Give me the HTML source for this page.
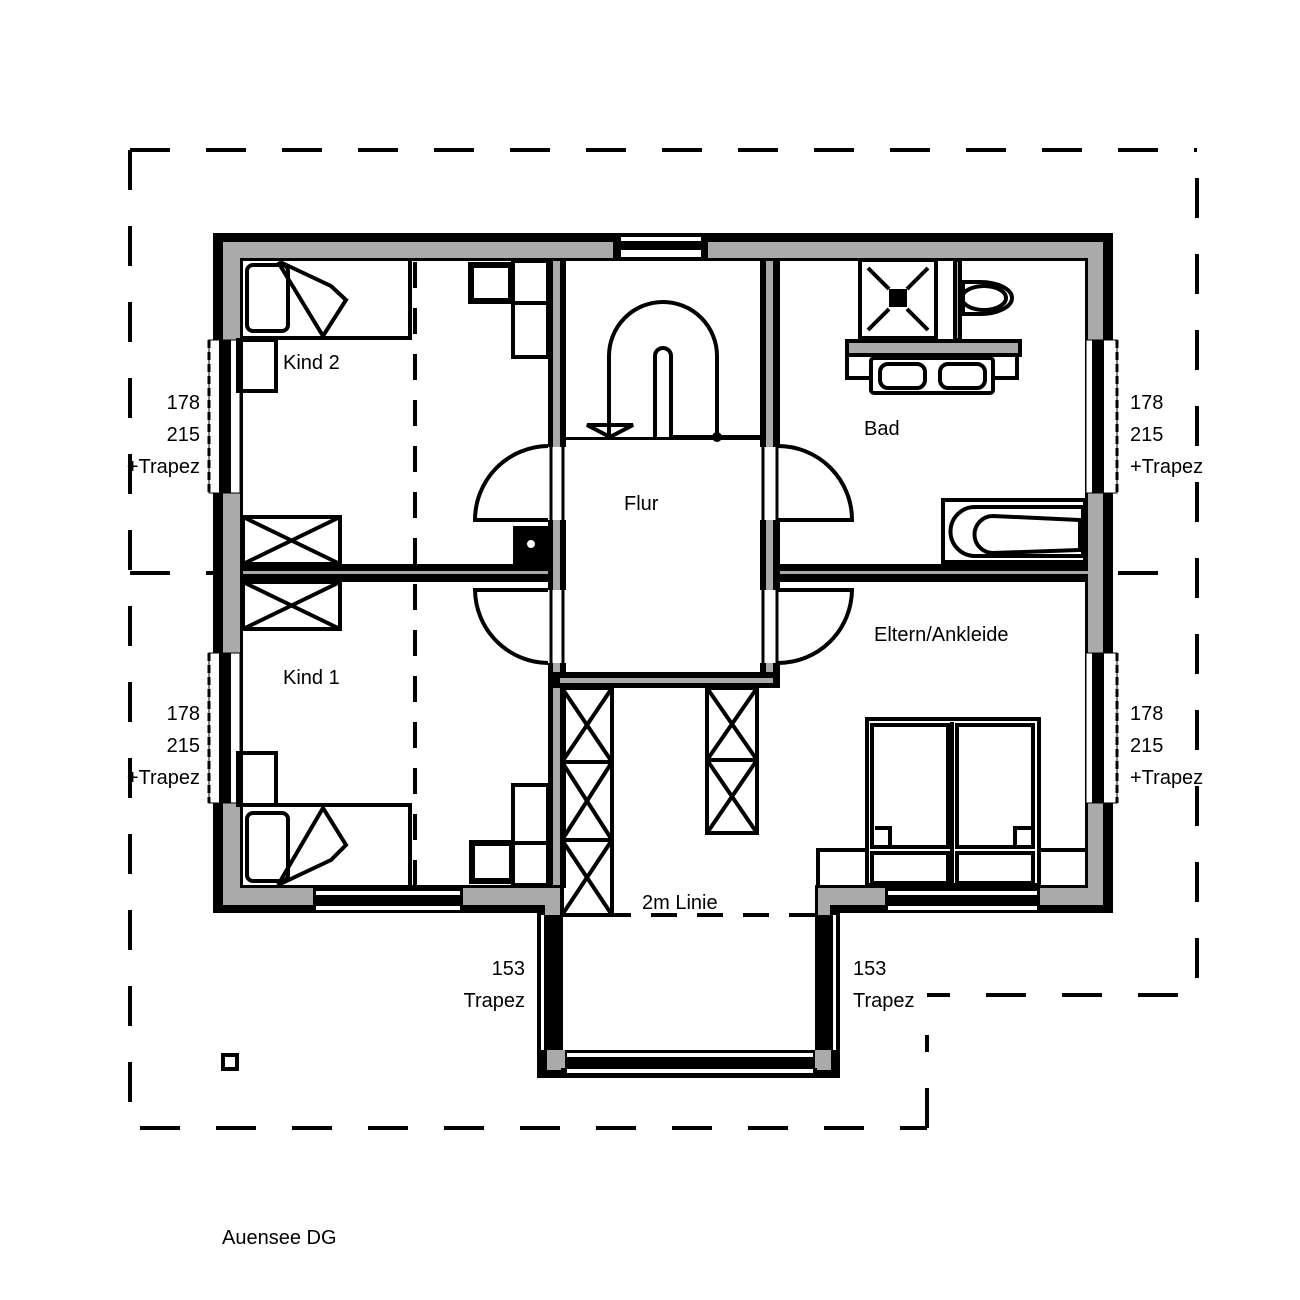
<!DOCTYPE html>
<html><head><meta charset="utf-8"><style>
html,body{margin:0;padding:0;background:#fff;}
svg{display:block;}
text{font-family:"Liberation Sans",sans-serif;font-size:20px;fill:#000;}
</style></head><body>
<svg width="1300" height="1300" viewBox="0 0 1300 1300" xmlns="http://www.w3.org/2000/svg">
<rect width="1300" height="1300" fill="#fff"/>
<g stroke="#000" stroke-width="4" fill="none" stroke-dasharray="40,36">
<path d="M130 150 H1197"/>
<path d="M130 150 V1128 H927"/>
<path d="M1197 178 V995 H927"/>
<path d="M927 1128 V1035"/>
<path d="M130 573 H1165"/>
</g>
<path d="M213 233 H1113 V913 H840 V1078 H537 V913 H213 Z" fill="#000"/>
<path d="M223 242 H1103 V905 H830 V1068 H547 V905 H223 Z" fill="#aaa"/>
<path d="M240 258 H1088 V888 H818 V1050 H560 V888 H240 Z" fill="#000"/>
<path d="M243 261 H1085 V885 H815 V1050 H563 V885 H243 Z" fill="#fff"/>
<rect x="547" y="915" width="13" height="135" fill="#000"/>
<rect x="541" y="915" width="3" height="135" fill="#fff"/>
<rect x="818" y="915" width="13" height="135" fill="#000"/>
<rect x="833" y="915" width="3" height="135" fill="#fff"/>
<rect x="547" y="1050" width="14" height="20" fill="#aaa"/>
<rect x="817" y="1050" width="14" height="20" fill="#aaa"/>
<rect x="565" y="1050" width="250" height="28" fill="#000"/>
<rect x="567" y="1053" width="246" height="4" fill="#fff"/>
<rect x="567" y="1069" width="246" height="4" fill="#fff"/>
<rect x="545" y="888" width="15" height="27" fill="#aaa"/>
<rect x="818" y="888" width="67" height="17" fill="#aaa"/>
<rect x="613" y="233" width="95" height="27" fill="#000"/>
<rect x="621" y="237" width="80" height="4" fill="#fff"/>
<rect x="621" y="250" width="80" height="7" fill="#fff"/>
<rect x="313" y="888" width="150" height="25" fill="#000"/>
<rect x="316" y="891" width="144" height="4" fill="#fff"/>
<rect x="316" y="906" width="144" height="4" fill="#fff"/>
<rect x="885" y="888" width="155" height="25" fill="#000"/>
<rect x="888" y="891" width="149" height="4" fill="#fff"/>
<rect x="888" y="906" width="149" height="4" fill="#fff"/>
<g>
<rect x="209" y="340" width="31" height="153" fill="#fff"/>
<rect x="219" y="340" width="12" height="153" fill="#000"/>
<rect x="209" y="340" width="31" height="153" fill="none" stroke="#000" stroke-width="1"/>
<line x1="209" y1="340" x2="209" y2="493" stroke="#000" stroke-width="3" stroke-dasharray="8,4"/>
<rect x="209" y="653" width="31" height="150" fill="#fff"/>
<rect x="219" y="653" width="12" height="150" fill="#000"/>
<rect x="209" y="653" width="31" height="150" fill="none" stroke="#000" stroke-width="1"/>
<line x1="209" y1="653" x2="209" y2="803" stroke="#000" stroke-width="3" stroke-dasharray="8,4"/>
<rect x="1086" y="340" width="31" height="153" fill="#fff"/>
<rect x="1092" y="340" width="12" height="153" fill="#000"/>
<rect x="1086" y="340" width="31" height="153" fill="none" stroke="#000" stroke-width="1"/>
<line x1="1117" y1="340" x2="1117" y2="493" stroke="#000" stroke-width="3" stroke-dasharray="8,4"/>
<rect x="1086" y="653" width="31" height="150" fill="#fff"/>
<rect x="1092" y="653" width="12" height="150" fill="#000"/>
<rect x="1086" y="653" width="31" height="150" fill="none" stroke="#000" stroke-width="1"/>
<line x1="1117" y1="653" x2="1117" y2="803" stroke="#000" stroke-width="3" stroke-dasharray="8,4"/>
</g>
<rect x="548" y="258" width="18" height="630" fill="#000"/>
<rect x="553" y="261" width="7" height="624" fill="#aaa"/>
<rect x="760" y="258" width="20" height="430" fill="#000"/>
<rect x="766" y="261" width="7" height="420" fill="#aaa"/>
<rect x="548" y="672" width="232" height="16" fill="#000"/>
<rect x="560" y="678" width="213" height="5" fill="#aaa"/>
<rect x="566" y="437" width="194" height="235" fill="#fff"/>
<rect x="566" y="437" width="194" height="3" fill="#000"/>
<rect x="240" y="564" width="308" height="18" fill="#000"/>
<rect x="243" y="571" width="305" height="3" fill="#aaa"/>
<rect x="780" y="564" width="308" height="18" fill="#000"/>
<rect x="780" y="571" width="308" height="3" fill="#aaa"/>
<rect x="548" y="447" width="18" height="73" fill="#fff"/>
<rect x="548" y="590" width="18" height="73" fill="#fff"/>
<rect x="760" y="447" width="20" height="73" fill="#fff"/>
<rect x="760" y="590" width="20" height="73" fill="#fff"/>
<g stroke="#000" stroke-width="3" fill="none">
<line x1="563" y1="447" x2="563" y2="520"/><line x1="563" y1="590" x2="563" y2="663"/>
<line x1="763" y1="447" x2="763" y2="520"/><line x1="763" y1="590" x2="763" y2="663"/>
<line x1="551" y1="447" x2="551" y2="520"/><line x1="551" y1="590" x2="551" y2="663"/>
<line x1="777" y1="447" x2="777" y2="520"/><line x1="777" y1="590" x2="777" y2="663"/>
</g>
<g stroke="#000" stroke-width="4" fill="none">
<path d="M548 446 A74 74 0 0 0 475 520 H548"/>
<path d="M548 590 H475 A74 74 0 0 0 548 663"/>
<path d="M778 446 A74 74 0 0 1 852 520 H778"/>
<path d="M778 590 H852 A74 74 0 0 1 778 663"/>
</g>
<g stroke="#000" stroke-width="4" stroke-dasharray="26,20">
<line x1="415" y1="262" x2="415" y2="885"/>
<line x1="605" y1="915" x2="818" y2="915"/>
</g>
<g stroke="#000" stroke-width="4" fill="none">
<path d="M609 437 V356 A54 54 0 0 1 717 356 V437"/>
<path d="M655 440 V356 A8 8 0 0 1 671 356 V437 H760"/>
<path d="M587 425 H633 L610 437 Z"/>
</g>
<circle cx="717" cy="437" r="5" fill="#000"/>
<g stroke="#000" stroke-width="4" fill="none">
<path d="M241 338 H410 V261"/>
<rect x="247" y="265" width="41" height="66" rx="6"/>
<path d="M278 262 L323 336 L346 300 L331 286 L280 262"/>
<rect x="238" y="340" width="38" height="51"/>
<rect x="471" y="265" width="40" height="36" stroke-width="6"/>
<rect x="513" y="303" width="35" height="54"/>
<rect x="513" y="261" width="35" height="42"/>
<rect x="243" y="517" width="97" height="47"/>
<path d="M243 517 L340 564 M340 517 L243 564"/>
<rect x="243" y="582" width="97" height="47"/>
<path d="M243 582 L340 629 M340 582 L243 629"/>
</g>
<rect x="513" y="526" width="35" height="39" fill="#000"/>
<circle cx="531" cy="544" r="4" fill="#fff"/>
<g stroke="#000" stroke-width="4" fill="none">
<path d="M241 805 H410 V885"/>
<rect x="247" y="813" width="41" height="68" rx="6"/>
<path d="M278 885 L323 808 L346 845 L331 860 L278 885"/>
<rect x="238" y="753" width="38" height="52"/>
<rect x="472" y="843" width="40" height="38" stroke-width="6"/>
<rect x="513" y="785" width="35" height="58"/>
<rect x="513" y="843" width="35" height="42"/>
</g>
<g stroke="#000" stroke-width="4" fill="none">
<rect x="562" y="688" width="50" height="227"/>
<path d="M562 762 H612 M562 840 H612"/>
<path d="M562 688 L612 762 M612 688 L562 762 M562 762 L612 840 M612 762 L562 840 M562 840 L612 915 M612 840 L562 915"/>
<rect x="707" y="688" width="50" height="145"/>
<path d="M707 760 H757"/>
<path d="M707 688 L757 760 M757 688 L707 760 M707 760 L757 833 M757 760 L707 833"/>
</g>
<g stroke="#000" stroke-width="4" fill="none">
<rect x="860" y="260" width="76" height="78"/>
<path d="M868 268 L889 289 M928 268 L907 289 M868 330 L889 309 M928 330 L907 309"/>
<rect x="955" y="260" width="5" height="80" fill="#aaa"/>
<path d="M963 282 H980 A30 15 0 0 1 980 314 H963 Z"/>
<ellipse cx="984" cy="298" rx="22" ry="12"/>
<rect x="847" y="341" width="173" height="14" fill="#aaa"/>
<path d="M847 355 V378 H870 M993 378 H1017 V355"/>
<rect x="871" y="358" width="122" height="35" rx="3"/>
<rect x="880" y="364" width="45" height="24" rx="8"/>
<rect x="940" y="364" width="45" height="24" rx="8"/>
<path d="M943 500 H1085 V562 H943 Z"/>
<path d="M975 507 H1083 V556 H975 A24.5 24.5 0 0 1 975 507 Z"/>
<path d="M993 516 L1080 520 V550 L993 553 A18.5 18.5 0 0 1 993 516 Z"/>
</g>
<rect x="889" y="289" width="18" height="18" fill="#000"/>
<g stroke="#000" stroke-width="4" fill="none">
<rect x="867" y="719" width="172" height="166"/>
<rect x="872" y="725" width="76" height="122"/>
<rect x="957" y="725" width="76" height="122"/>
<rect x="872" y="853" width="76" height="30"/>
<rect x="957" y="853" width="76" height="30"/>
<path d="M875 828 H890 V845 M1015 845 V828 H1031"/>
<line x1="952" y1="722" x2="952" y2="885"/>
<path d="M818 888 V850 H867 M1039 850 H1086"/>
</g>
<rect x="223" y="1055" width="14" height="14" fill="none" stroke="#000" stroke-width="4"/>
<text x="283" y="369">Kind 2</text>
<text x="283" y="684">Kind 1</text>
<text x="624" y="510">Flur</text>
<text x="864" y="435">Bad</text>
<text x="874" y="641">Eltern/Ankleide</text>
<text x="642" y="909">2m Linie</text>
<g text-anchor="end">
<text x="200" y="409">178</text><text x="200" y="441">215</text><text x="200" y="473">+Trapez</text>
<text x="200" y="720">178</text><text x="200" y="752">215</text><text x="200" y="784">+Trapez</text>
<text x="525" y="975">153</text><text x="525" y="1007">Trapez</text>
</g>
<text x="1130" y="409">178</text><text x="1130" y="441">215</text><text x="1130" y="473">+Trapez</text>
<text x="1130" y="720">178</text><text x="1130" y="752">215</text><text x="1130" y="784">+Trapez</text>
<text x="853" y="975">153</text><text x="853" y="1007">Trapez</text>
<text x="222" y="1244">Auensee DG</text>
</svg>
</body></html>
